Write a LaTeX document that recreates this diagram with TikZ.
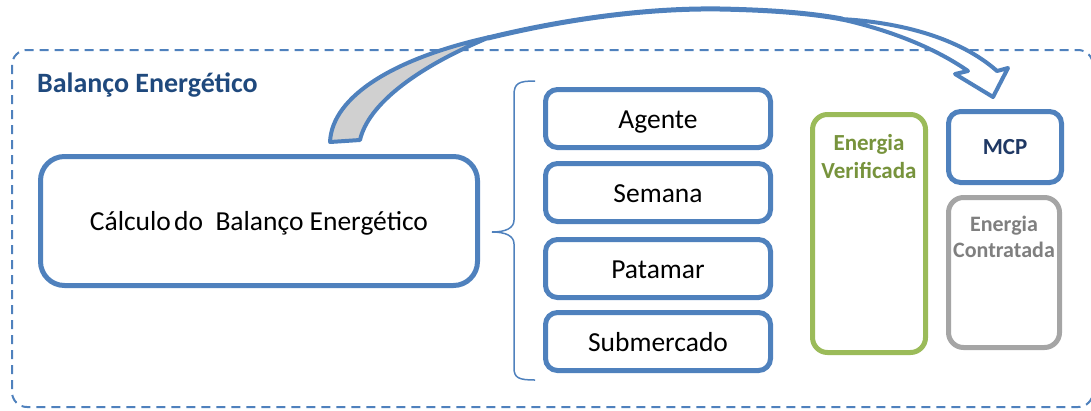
\documentclass[tikz,border=0pt]{standalone}
\usepackage{fontspec}
\setmainfont{Carlito}
\definecolor{cblue}{HTML}{4F81BD}
\definecolor{ctitle}{HTML}{1F497D}
\definecolor{cgreen}{HTML}{9BBB59}
\definecolor{cgreentext}{HTML}{77933C}
\definecolor{cnavy}{HTML}{1F3864}
\definecolor{cgray}{HTML}{A5A5A5}
\definecolor{cgraytext}{HTML}{7F7F7F}
\definecolor{carrowfill}{HTML}{D0D0D0}
\tikzset{
  box/.style={draw=cblue, line width=5pt, rounded corners=12pt, inner sep=0pt, fill=white},
  bigbox/.style={box, rounded corners=24pt},
  item/.style={box, minimum width=225pt, minimum height=58pt, text height=19pt, text depth=0pt, font=\fontsize{27.5}{32}\selectfont},
  sidetext/.style={inner sep=0pt, align=center, font=\fontsize{23}{28}\selectfont\bfseries},
  arrowband/.style={draw=cblue, line width=4pt, line join=round},
  frame/.style={draw=cblue, line width=2pt, dash pattern=on 9pt off 6pt, rounded corners=15pt},
}
\begin{document}
\begin{tikzpicture}[x=1pt,y=-1pt]
\useasboundingbox (0,0) rectangle (1091,410);
\clip (0,0) rectangle (1091,410);
% dashed frame
\draw[frame] (12,50) rectangle (1093,407);
\node[anchor=base west, inner sep=0pt, text=ctitle, font=\fontsize{28}{32}\selectfont\bfseries] (title) at (37,92) {Balanço Energético};
% main box
\node[bigbox, minimum width=437pt, minimum height=129pt, text height=19pt, text depth=0pt, font=\fontsize{27.5}{32}\selectfont] (calc) at (259,221) {Cálculo\hspace{0.12em}do\hspace{0.45em}Balanço Energético};
% brace
\draw[cblue, line width=1.5pt] (535,81) .. controls (519,81) and (514,83) .. (514,95) -- (514,220) .. controls (514,228) and (506,232) .. (492,232) .. controls (506,232) and (514,236) .. (514,244) -- (514,368) .. controls (514,378) and (519,380) .. (535,380);
% items
\node[item] (agente) at (658,118.5) {Agente};
\node[item] (semana) at (658,192.5) {Semana};
\node[item] (patamar) at (658,268.5) {Patamar};
\node[item] (submercado) at (658,341.5) {Submercado};
% right boxes
\node[box, draw=cgreen, rounded corners=15pt, minimum width=113pt, minimum height=238pt] (ever) at (869,233.5) {};
\node[sidetext, text=cgreentext] (evertext) at (869,157) {Energia\\Verificada};
\node[box, minimum width=113pt, minimum height=71pt] (mcp) at (1005,147) {};
\node[sidetext, text=cnavy, text height=15pt, text depth=0pt] (mcptext) at (1005,147) {MCP};
\node[box, draw=cgray, rounded corners=15pt, minimum width=111pt, minimum height=150pt] (econ) at (1004,272.5) {};
\node[sidetext, text=cgraytext, font=\fontsize{22}{26}\selectfont\bfseries] (econtext) at (1004,237) {Energia\\Contratada};
% curved arrow
\draw[arrowband, fill=carrowfill] (330,142) .. controls (332,96) and (395,58) .. (490,37) .. controls (415,68) and (368,105) .. (360,140) -- cycle;
\draw[cblue, line width=5pt, line cap=round] (488,38) .. controls (570,18) and (650,8) .. (720,9) .. controls (770,10) and (810,13) .. (842,19);
\draw[arrowband, fill=white] (840,19) .. controls (900,22) and (960,38) .. (997,71) -- (1008,68) -- (993,97) -- (955,74) -- (968,71) .. controls (935,48) and (890,30) .. (840,19) -- cycle;
\end{tikzpicture}
\end{document}
